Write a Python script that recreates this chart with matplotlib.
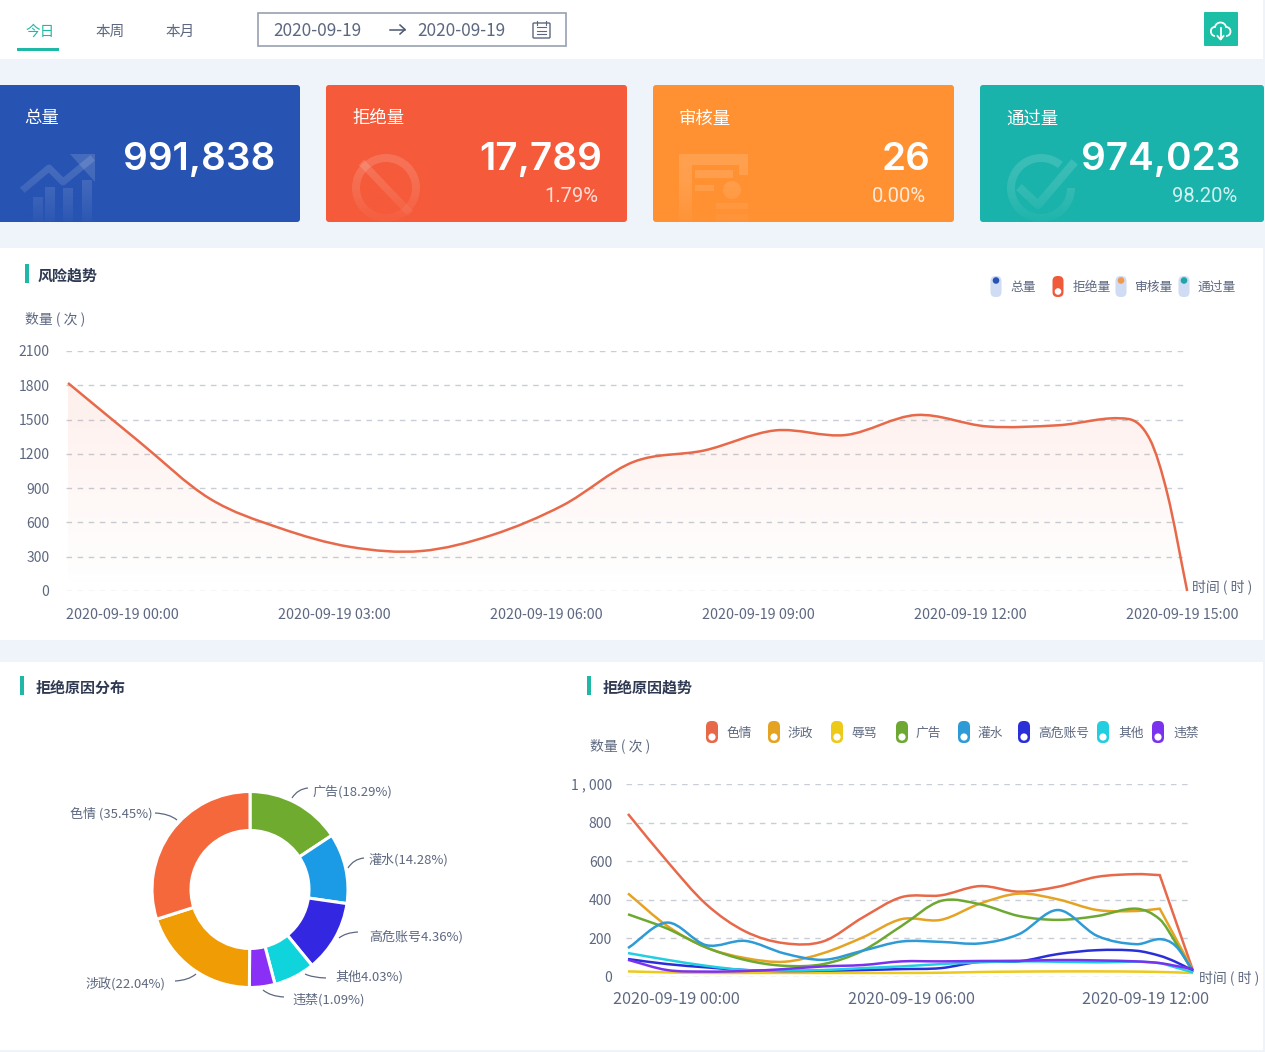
import numpy as np
import matplotlib
matplotlib.use("Agg")
import matplotlib.pyplot as plt
from matplotlib.patches import FancyBboxPatch, Rectangle, Circle, PathPatch, Wedge
from matplotlib.path import Path
from matplotlib.transforms import ScaledTranslation

plt.rcParams['font.family'] = ['Noto Sans CJK SC', 'DejaVu Sans']

W, H = 1265, 1052
TEAL = '#1fb8a6'
TEXT = '#5d6880'
TITLE = '#2f3a52'

# top cards
card_names = ['总量', '拒绝量', '审核量', '通过量']
card_values = ['991,838', '17,789', '26', '974,023']
card_shares = ['', '1.79%', '0.00%', '98.20%']
card_colors = ['#2753b2', '#f55a3a', '#ff9133', '#1ab3ab']

# risk trend
trend_hours = [0, 1, 2, 3, 4, 5, 6, 7, 8, 9, 10, 11, 12, 13, 14, 15, 15.3, 15.55, 15.83]
trend_values = [1820, 1310, 810, 550, 385, 350, 490, 750, 1130, 1230, 1405, 1365, 1540, 1440, 1450, 1505, 1330, 850, 0]
trend_yticks = [0, 300, 600, 900, 1200, 1500, 1800, 2100]
trend_xticks = [0, 3, 6, 9, 12, 15]
trend_xlabels = ['2020-09-19 00:00', '2020-09-19 03:00', '2020-09-19 06:00',
                 '2020-09-19 09:00', '2020-09-19 12:00', '2020-09-19 15:00']
trend_legend = ['总量', '拒绝量', '审核量', '通过量']

# rejection reason shares, as the ring draws them (clockwise from the top)
pie_names = ['广告', '灌水', '高危账号', '其他', '违禁', '涉政', '色情']
pie_shares = [15.7, 11.6, 11.8, 6.8, 4.2, 20.0, 29.9]
pie_colors = ['#6fab2e', '#1b9ae6', '#3427e2', '#10d4dc', '#8a2ff5', '#f09c05', '#f5683c']
pie_labels = ['广告(18.29%)', '灌水(14.28%)', '高危账号4.36%)', '其他4.03%)',
              '违禁(1.09%)', '涉政(22.04%)', '色情 (35.45%)']

# rejection reason trend
reason_hours = [0, 1, 2, 3, 4, 5, 6, 7, 8, 9, 10, 11, 12, 13, 13.6, 14, 14.45]
seqing = [845, 600, 377, 236, 175, 185, 308, 414, 423, 471, 442, 468, 519, 533, 528, 295, 33]
shezheng = [433, 265, 153, 98, 79, 124, 205, 300, 296, 380, 432, 402, 347, 342, 354, 203, 33]
ruma = [29, 24, 21, 21, 21, 21, 21, 21, 22, 26, 28, 29, 29, 28, 26, 24, 21]
guanggao = [325, 251, 153, 88, 58, 67, 136, 265, 394, 377, 316, 296, 316, 354, 299, 180, 24]
guanshui = [150, 282, 165, 187, 122, 89, 136, 184, 182, 174, 222, 347, 213, 170, 196, 162, 33]
gaowei = [93, 67, 50, 36, 31, 33, 36, 41, 46, 79, 81, 119, 139, 136, 110, 79, 33]
qita = [124, 89, 58, 36, 33, 36, 46, 55, 67, 76, 81, 79, 76, 79, 72, 50, 24]
weijin = [89, 36, 28, 31, 41, 55, 62, 81, 81, 83, 84, 88, 86, 81, 72, 58, 41]
reason_names = ['色情', '涉政', '辱骂', '广告', '灌水', '高危账号', '其他', '违禁']
reason_series = [seqing, shezheng, ruma, guanggao, guanshui, gaowei, qita, weijin]
reason_colors = ['#e8694a', '#e5a323', '#edc91a', '#6da832', '#2e9bd6', '#2a2fd8', '#22cfe0', '#7b32ee']
reason_yticks = [0, 200, 400, 600, 800, 1000]
reason_ylabels = ['0', '200', '400', '600', '800', '1 , 000']
reason_xticks = [0, 6, 12]
reason_xlabels = ['2020-09-19 00:00', '2020-09-19 06:00', '2020-09-19 12:00']


def px_axes(left, top, right, bottom):
    ax = fig.add_axes([left / W, 1 - bottom / H, (right - left) / W, (bottom - top) / H])
    ax.set_facecolor('none')
    for s in ax.spines.values():
        s.set_visible(False)
    ax.tick_params(length=0)
    return ax


def smooth_path(xs, ys):
    # cubic through the points, as bezier segments
    xs = np.asarray(xs, float)
    ys = np.asarray(ys, float)
    dx = np.diff(xs)
    sl = np.diff(ys) / dx
    m = np.zeros(len(xs))
    m[0], m[-1] = sl[0], sl[-1]
    m[1:-1] = (ys[2:] - ys[:-2]) / (xs[2:] - xs[:-2])
    verts = [(xs[0], ys[0])]
    codes = [Path.MOVETO]
    for i in range(len(dx)):
        verts += [(xs[i] + dx[i] / 3, ys[i] + m[i] * dx[i] / 3),
                  (xs[i + 1] - dx[i] / 3, ys[i + 1] - m[i + 1] * dx[i] / 3),
                  (xs[i + 1], ys[i + 1])]
        codes += [Path.CURVE4] * 3
    return verts, codes


def pill(x, top, bottom, w, color, dot, on):
    bg.add_patch(FancyBboxPatch((x - w / 2 + w * .45, top + w * .45), w * .1, bottom - top - w * .9,
                                boxstyle=f'round,pad={w * .45}', fc=color if on else '#cfdcf4', ec='none'))
    cy = bottom - w / 2 if on else top + w / 2 - 1
    bg.add_patch(Circle((x, cy), w * .3, fc='white' if on else dot, ec='none'))


def section_title(x, y, text, off):
    bg.add_patch(Rectangle((x, y - 10), 4, 19, fc=TEAL, ec='none'))
    bg.text(x + off, y + 1.5, text, fontsize=10.8, fontweight='bold', color=TITLE, va='center')


fig = plt.figure(figsize=(W / 100, H / 100), dpi=100, facecolor='#eff3fa')
bg = fig.add_axes([0, 0, 1, 1])
bg.axis('off')

# panels
for top, bottom in [(0, 59), (248, 640), (662, 1050)]:
    bg.add_patch(Rectangle((0, top), 1263, bottom - top, fc='white', ec='none'))

# header
for x, t, c in [(40, '今日', TEAL), (110, '本周', TEXT), (180, '本月', TEXT)]:
    bg.text(x, 31.5, t, fontsize=10.5, color=c, ha='center', va='center')
bg.add_patch(Rectangle((17, 48), 42, 2.5, fc=TEAL, ec='none'))
bg.add_patch(Rectangle((258, 13), 308, 33, fc='white', ec='#98a1b0', lw=1.2))
bg.text(273, 31, '2020-09-19', fontsize=12.4, color=TEXT, va='center')
bg.text(417, 31, '2020-09-19', fontsize=12.4, color=TEXT, va='center')
bg.plot([390, 405], [29.5, 29.5], color='#4d5870', lw=1.1)
bg.plot([400, 405, 400], [25, 29.5, 34], color='#4d5870', lw=1.1)
bg.add_patch(FancyBboxPatch((534, 24), 15, 13, boxstyle='round,pad=1', fc='none', ec='#5d6880', lw=1))
for yy in [27, 31, 34]:
    bg.plot([537, 546], [yy, yy], color='#5d6880', lw=.8)
for xx in [537, 546]:
    bg.plot([xx, xx], [21, 25], color='#5d6880', lw=.8)
bg.add_patch(FancyBboxPatch((1205, 13), 32, 32, boxstyle='round,pad=1', fc='#1cbfa5', ec='none'))
bg.add_patch(PathPatch(Path([(1215, 36), (1210, 36), (1209, 27), (1215, 27), (1216, 21), (1225, 21), (1226, 27),
                             (1232, 27), (1232, 36), (1226, 36)],
                            [Path.MOVETO] + [Path.CURVE4] * 9), fc='none', ec='white', lw=1.3))
bg.plot([1220.5, 1220.5], [28, 39], color='white', lw=1.3)
bg.plot([1217.5, 1220.5, 1223.5], [36, 39.5, 36], color='white', lw=1.3)

# cards
card_boxes = [(-3, 300), (326, 627), (653, 954), (980, 1264)]
num_right = [275, 602, 931, 1240]
pct_right = [0, 598, 926, 1237]
for i, (x0, x1) in enumerate(card_boxes):
    bg.add_patch(FancyBboxPatch((x0 + 3, 88), x1 - x0 - 6, 131, boxstyle='round,pad=3', fc=card_colors[i], ec='none'))
    bg.text(x0 + (27 if i == 0 else 26), 118.5, card_names[i], fontsize=12.5, color='white', va='center')
    bg.text(num_right[i], 160, card_values[i], fontsize=27.8, color='white', ha='right', va='center',
            family='Inter', fontweight='semibold')
    if card_shares[i]:
        bg.text(pct_right[i], 196, card_shares[i], fontsize=14.5, color='white', alpha=.8, ha='right', va='center',
                family='Roboto')

# card icons
ic = dict(color='white', alpha=.14, ec='none')
for bx, h in zip([33, 45, 63, 82], [197, 187, 188, 180]):
    bg.add_patch(Rectangle((bx, h), 10, 222 - h, **ic))
bg.plot([25, 49, 63, 90], [188, 168, 182, 160], color='white', alpha=.14, lw=5)
bg.add_patch(plt.Polygon([(70, 154), (95, 154), (95, 182)], **ic))
bg.add_patch(Wedge((386, 188), 34, 0, 360, width=8, **ic))
bg.plot([364, 408], [165, 211], color='white', alpha=.14, lw=5.5)
bg.add_patch(Rectangle((679, 154), 69, 11, **ic))
bg.add_patch(Rectangle((679, 165), 13, 57, **ic))
bg.add_patch(Rectangle((739, 165), 9, 10, **ic))
bg.add_patch(Rectangle((695, 170), 38, 8, **ic))
bg.add_patch(Rectangle((695, 185), 19, 6, **ic))
bg.add_patch(Circle((732, 190), 9, **ic))
bg.add_patch(Rectangle((716, 203), 32, 6, **ic))
bg.add_patch(Rectangle((716, 214), 32, 8, **ic))
bg.add_patch(Wedge((1041, 188), 34, 0, 310, width=8, **ic))
bg.plot([1022, 1038, 1072], [190, 205, 165], color='white', alpha=.14, lw=6)

# fade the icons out towards the bottom of the card
for (x0, x1), col, (ix0, ix1) in zip(card_boxes, card_colors, [(22, 98), (349, 423), (676, 751), (1003, 1078)]):
    rgba = np.zeros((64, 1, 4))
    rgba[..., :3] = matplotlib.colors.to_rgb(col)
    rgba[..., 3] = np.linspace(0, .9, 64)[:, None] ** 1.5
    bg.imshow(rgba, extent=(ix0, ix1, 222, 165), aspect='auto', zorder=3, interpolation='bilinear')

# risk trend
section_title(25, 274, '风险趋势', 13)
bg.text(25, 319, '数量 ( 次 )', fontsize=10, color=TEXT, va='center')
bg.text(1192, 587, '时间 ( 时 )', fontsize=10, color=TEXT, va='center')
for x, col, on in zip([996, 1058, 1121, 1184], ['#2753b2', '#ee5a3a', '#f09a50', '#1ea5a5'],
                      [False, True, False, False]):
    pill(x, 276, 297, 11, col, col, on)
for x, name in zip([1010, 1073, 1135, 1197], trend_legend):
    bg.text(x, 287, name, fontsize=9.2, color=TEXT, va='center')

ax1 = px_axes(66, 351, 1188, 591)
ax1.set_xlim(-2 / 70.7, 1120 / 70.7)
ax1.set_ylim(0, 2100)
ax1.set_yticks(trend_yticks)
ax1.set_xticks(trend_xticks)
ax1.set_xticklabels(trend_xlabels, ha='left')
ax1.tick_params(axis='x', labelsize=10.3, labelcolor=TEXT, pad=12)
ax1.tick_params(axis='y', labelsize=10, labelcolor=TEXT, pad=12)
ax1.yaxis.grid(True, color='#c8cdd6', lw=1, ls=(0, (4, 4)))
ax1.set_axisbelow(True)
for lbl in ax1.get_xticklabels():
    lbl.set_transform(lbl.get_transform() + ScaledTranslation(-.02, 0, fig.dpi_scale_trans))
v, c = smooth_path(trend_hours, trend_values)
grad = np.zeros((100, 1, 4))
grad[..., :3] = matplotlib.colors.to_rgb('#f2603c')
grad[..., 3] = np.linspace(.1, 0, 100)[:, None]
im = ax1.imshow(grad, extent=(0, trend_hours[-1], 0, 1820), aspect='auto', origin='upper', zorder=1)
area = PathPatch(Path(v + [(trend_hours[-1], 0), (0, 0), (0, 0)], c + [Path.LINETO, Path.LINETO, Path.CLOSEPOLY]),
                 transform=ax1.transData, fc='none', ec='none')
ax1.add_patch(area)
im.set_clip_path(area)
ax1.set_xlim(-2 / 70.7, 1120 / 70.7)
ax1.set_ylim(0, 2100)
ax1.add_patch(PathPatch(Path(v, c), fc='none', ec='#e8694a', lw=1.8, zorder=3, clip_on=False))

# ring
section_title(20, 686, '拒绝原因分布', 16)
cx, cy, r_px = 250, 889.5, 98
ax2 = px_axes(cx - 120, cy - 120, cx + 120, cy + 120)
ax2.pie(pie_shares, colors=pie_colors, startangle=90, counterclock=False, radius=r_px,
        wedgeprops=dict(width=r_px - 59, edgecolor='white', linewidth=2.2))
ax2.set_xlim(-120, 120)
ax2.set_ylim(-120, 120)

leader_starts = [(292, 798), (348, 868), (339, 938), (305, 974), (263, 990), (196, 974), (177, 820)]
leader_ends = [(308, 788), (364, 858), (358, 932), (326, 978), (284, 997), (175, 981), (155, 813)]
label_pos = [(313, 792), (369, 860), (369, 937), (335, 977), (292, 1000), (165, 984), (153, 814)]
for s, e, p, t in zip(leader_starts, leader_ends, label_pos, pie_labels):
    ctrl = (s[0] + (e[0] - s[0]) * .35, e[1] + (s[1] - e[1]) * .1)
    bg.add_patch(PathPatch(Path([s, ctrl, e], [Path.MOVETO, Path.CURVE3, Path.CURVE3]), fc='none', ec='#5d6880', lw=.9))
    bg.text(p[0], p[1], t, fontsize=9.4, color=TEXT, va='center', ha='left' if p[0] > cx else 'right')

# rejection reason trend
section_title(587, 686, '拒绝原因趋势', 16)
bg.text(590, 746, '数量 ( 次 )', fontsize=10, color=TEXT, va='center')
bg.text(1199, 978, '时间 ( 时 )', fontsize=10, color=TEXT, va='center')
for x, tx, name, col in zip([712, 774, 837, 902, 964, 1024, 1103, 1158],
                            [726, 788, 851, 916, 978, 1038, 1118, 1173], reason_names, reason_colors):
    pill(x, 721, 743, 12, col, col, True)
    bg.text(tx, 733, name, fontsize=9.2, color=TEXT, va='center')

ax3 = px_axes(626, 784, 1190, 977)
ax3.set_xlim(-2 / 39.1, 562 / 39.1)
ax3.set_ylim(0, 1000)
ax3.set_yticks(reason_yticks)
ax3.set_yticklabels(reason_ylabels)
ax3.set_xticks(reason_xticks)
ax3.set_xticklabels(reason_xlabels, ha='left')
ax3.tick_params(axis='x', labelsize=11.7, labelcolor=TEXT, pad=10)
ax3.tick_params(axis='y', labelsize=10, labelcolor=TEXT, pad=10)
ax3.yaxis.grid(True, color='#c8cdd6', lw=1, ls=(0, (4, 4)))
ax3.set_axisbelow(True)
for lbl in ax3.get_xticklabels():
    lbl.set_transform(lbl.get_transform() + ScaledTranslation(-.15, 0, fig.dpi_scale_trans))
for name, vals, col in zip(reason_names, reason_series, reason_colors):
    if name in ('色情', '涉政'):
        # these two run flat and then drop straight to the last point
        v, c = smooth_path(reason_hours[:-2], vals[:-2])
        v = v + [(reason_hours[-1], vals[-1])]
        c = c + [Path.LINETO]
    else:
        v, c = smooth_path(reason_hours, vals)
    ax3.add_patch(PathPatch(Path(v, c), fc='none', ec=col, lw=1.8, clip_on=False))

bg.set_xlim(0, W)
bg.set_ylim(H, 0)
fig.savefig('out.png', dpi=100)
